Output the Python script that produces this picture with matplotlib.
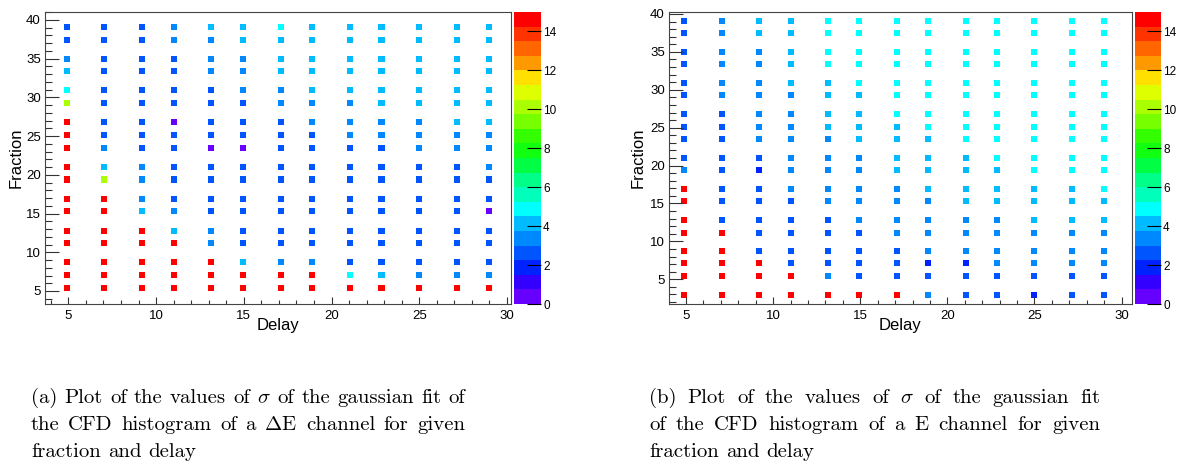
import numpy as np
import matplotlib.pyplot as plt
from matplotlib.colors import ListedColormap, BoundaryNorm
from matplotlib.ticker import MultipleLocator

plt.rcParams['font.family'] = ['Liberation Sans', 'DejaVu Sans']
plt.rcParams['mathtext.fontset'] = 'cm'

delay = [4.9, 7.05, 9.2, 11.0, 13.15, 14.95, 17.1, 18.9, 21.05, 22.85, 25.0, 27.15, 29.0]
fraction = [39.1, 37.45, 35.0, 33.4, 30.9, 29.25, 26.8, 25.1, 23.45, 21.05,
            19.4, 16.9, 15.3, 12.8, 11.15, 8.75, 7.1, 5.4, 2.9]

# sigma of the gaussian fit, one row per fraction (top row first)
sigma_de = [
    [2.6, 2.6, 2.6, 3.4, 4.1, 4.1, 4.9, 4.1, 4.1, 4.1, 4.1, 4.1, 4.1],
    [2.6, 2.6, 2.6, 3.4, 3.4, 4.1, 4.1, 4.1, 4.1, 4.1, 4.1, 4.1, 4.1],
    [3.4, 2.6, 2.6, 2.6, 3.4, 3.4, 4.1, 4.1, 4.1, 4.1, 4.1, 4.1, 4.1],
    [4.1, 2.6, 2.6, 2.6, 3.4, 3.4, 4.1, 4.1, 4.1, 4.1, 4.1, 4.1, 4.1],
    [4.9, 2.6, 2.6, 2.6, 2.6, 3.4, 3.4, 4.1, 4.1, 4.1, 4.1, 4.1, 4.1],
    [10.1, 2.6, 2.6, 2.6, 2.6, 2.6, 3.4, 3.4, 3.4, 4.1, 4.1, 4.1, 4.1],
    [14.7, 2.6, 2.6, 0.4, 2.6, 2.6, 2.6, 3.4, 3.4, 3.4, 3.4, 4.1, 4.1],
    [14.7, 2.6, 2.6, 2.6, 2.6, 2.6, 2.6, 2.6, 3.4, 3.4, 3.4, 3.4, 3.4],
    [14.7, 3.4, 2.6, 2.6, 0.4, 0.4, 2.6, 2.6, 2.6, 2.6, 3.4, 3.4, 3.4],
    [14.7, 4.1, 3.4, 2.6, 2.6, 2.6, 2.6, 2.6, 2.6, 2.6, 2.6, 2.6, 3.4],
    [14.7, 10.1, 3.4, 2.6, 2.6, 2.6, 2.6, 2.6, 2.6, 2.6, 2.6, 2.6, 2.6],
    [14.7, 14.7, 3.4, 2.6, 2.6, 2.6, 2.6, 2.6, 2.6, 2.6, 2.6, 2.6, 2.6],
    [14.7, 14.7, 4.1, 3.4, 2.6, 2.6, 2.6, 2.6, 2.6, 2.6, 2.6, 2.6, 0.4],
    [14.7, 14.7, 14.7, 4.1, 3.4, 2.6, 2.6, 2.6, 2.6, 2.6, 2.6, 2.6, 2.6],
    [14.7, 14.7, 14.7, 14.7, 3.4, 2.6, 2.6, 2.6, 2.6, 2.6, 2.6, 2.6, 2.6],
    [14.7, 14.7, 14.7, 14.7, 14.7, 4.1, 3.4, 3.4, 2.6, 2.6, 2.6, 2.6, 2.6],
    [14.7, 14.7, 14.7, 14.7, 14.7, 14.7, 14.7, 14.7, 4.9, 4.1, 3.4, 3.4, 3.4],
    [14.7, 14.7, 14.7, 14.7, 14.7, 14.7, 14.7, 14.7, 14.7, 14.7, 14.7, 14.7, 14.7],
]

sigma_e = [
    [2.6, 3.4, 4.1, 4.1, 4.9, 4.9, 4.9, 4.9, 4.9, 4.9, 4.9, 4.9, 4.9],
    [2.6, 3.4, 4.1, 4.1, 4.9, 4.9, 4.9, 4.9, 4.9, 4.9, 4.9, 4.9, 4.9],
    [2.6, 3.4, 3.4, 4.1, 4.9, 4.9, 4.9, 4.9, 4.9, 4.9, 4.9, 4.9, 4.9],
    [2.6, 3.4, 3.4, 4.1, 4.9, 4.9, 4.9, 4.9, 4.9, 4.9, 4.9, 4.9, 4.9],
    [2.6, 3.4, 3.4, 4.1, 4.1, 4.9, 4.9, 4.9, 4.9, 4.9, 4.9, 4.9, 4.9],
    [2.6, 3.4, 3.4, 3.4, 4.1, 4.1, 4.9, 4.9, 4.9, 4.9, 4.9, 4.9, 4.9],
    [2.6, 2.6, 3.4, 3.4, 4.1, 4.1, 4.9, 4.9, 4.9, 4.9, 4.9, 4.9, 4.9],
    [2.6, 2.6, 3.4, 3.4, 4.1, 4.1, 4.1, 4.9, 4.9, 4.9, 4.9, 4.9, 4.9],
    [2.6, 2.6, 3.4, 3.4, 3.4, 4.1, 4.1, 4.1, 4.9, 4.9, 4.9, 4.9, 4.9],
    [2.6, 2.6, 2.6, 3.4, 3.4, 3.4, 4.1, 4.1, 4.1, 4.9, 4.9, 4.9, 4.9],
    [3.4, 2.6, 2.2, 3.4, 3.4, 3.4, 4.1, 4.1, 4.1, 4.1, 4.9, 4.9, 4.9],
    [14.7, 2.6, 2.6, 3.4, 3.4, 3.4, 3.4, 4.1, 4.1, 4.1, 4.1, 4.1, 4.9],
    [14.7, 2.6, 2.6, 2.6, 3.4, 3.4, 3.4, 3.4, 4.1, 4.1, 4.1, 4.1, 4.1],
    [14.7, 2.6, 2.6, 2.6, 2.6, 3.4, 3.4, 3.4, 3.4, 3.4, 4.1, 4.1, 4.1],
    [14.7, 14.7, 2.6, 2.6, 2.6, 2.6, 3.4, 3.4, 3.4, 3.4, 3.4, 3.4, 3.4],
    [14.7, 14.7, 2.6, 2.6, 2.6, 2.6, 2.6, 3.4, 3.4, 3.4, 3.4, 3.4, 3.4],
    [14.7, 14.7, 14.7, 2.6, 2.6, 2.6, 2.6, 1.9, 1.9, 3.4, 3.4, 3.4, 3.4],
    [14.7, 14.7, 14.7, 14.7, 3.4, 2.6, 2.6, 2.6, 2.6, 2.6, 2.6, 2.6, 2.6],
    [14.7, 14.7, 14.7, 14.7, 14.7, 14.7, 14.7, 3.4, 2.6, 2.6, 1.9, 2.6, 2.6],
]

# 20-level rainbow palette, 0 -> 15
palette = ['#6600ff', '#3300ff', '#0022ff', '#0055ff', '#0088ff', '#00bbff', '#00ffff',
           '#00ffbb', '#00ff88', '#00ff44', '#11ff11', '#33ff00', '#77ff00', '#aaff00',
           '#ddff00', '#ffe000', '#ff9900', '#ff6600', '#ff3300', '#ff0000']
cmap = ListedColormap(palette)
norm = BoundaryNorm(np.linspace(0, 15, 21), cmap.N)

W, H = 1183, 461
fig = plt.figure(figsize=(W / 100, H / 100), dpi=100)


def px_axes(x0, x1, y0, y1):
    return fig.add_axes([x0 / W, 1 - y1 / H, (x1 - x0) / W, (y1 - y0) / H])


def draw_panel(ax, cax, sigma, fracs, xlim, ylim, ylab_x):
    xs, ys = np.meshgrid(delay, fracs)
    sc = ax.scatter(xs.ravel(), ys.ravel(), c=np.ravel(sigma), cmap=cmap, norm=norm,
                    marker='s', s=19, linewidths=0)
    ax.set_xlim(*xlim)
    ax.set_ylim(*ylim)
    ax.xaxis.set_major_locator(MultipleLocator(5))
    ax.xaxis.set_minor_locator(MultipleLocator(1))
    ax.yaxis.set_major_locator(MultipleLocator(5))
    ax.yaxis.set_minor_locator(MultipleLocator(1))
    ax.tick_params(axis='both', which='both', direction='in', color='#333333',
                   labelsize=9.5, width=0.8)
    ax.tick_params(axis='x', which='major', length=5, pad=4)
    ax.tick_params(axis='x', which='minor', length=3)
    ax.tick_params(axis='y', which='major', length=10, pad=3)
    ax.tick_params(axis='y', which='minor', length=5)
    for sp in ax.spines.values():
        sp.set_color('#444444')
        sp.set_linewidth(0.8)
    ax.set_xlabel('Delay', fontsize=12)
    ax.xaxis.label.set_va('center')
    ax.xaxis.set_label_coords(0.5, -0.075)
    ax.set_ylabel('Fraction', fontsize=12)
    ax.yaxis.label.set_va('center')
    ax.yaxis.set_label_coords(ylab_x, 0.5)

    cb = fig.colorbar(sc, cax=cax, ticks=range(0, 15, 2))
    cb.outline.set_visible(False)
    cb.minorticks_off()
    cax.tick_params(direction='in', length=10, width=0.8, pad=1.5, labelsize=8.5)


ax_a = px_axes(45, 511, 12, 304)
cax_a = px_axes(514, 541, 12, 304)
draw_panel(ax_a, cax_a, sigma_de, fraction[:-1], (3.67, 30.23), (3.32, 41.03), -0.061)

ax_b = px_axes(669, 1132, 12, 304)
cax_b = px_axes(1135, 1161, 12, 304)
draw_panel(ax_b, cax_b, sigma_e, fraction, (4.02, 30.6), (1.74, 40.26), -0.067)

# captions, set in Computer Modern and justified
renderer = fig.canvas.get_renderer()
caption_a = [r'(a) Plot of the values of $\sigma$ of the gaussian fit of',
             r'the CFD histogram of a $\Delta$E channel for given',
             'fraction and delay']
caption_b = [r'(b) Plot of the values of $\sigma$ of the gaussian fit',
             'of the CFD histogram of a E channel for given',
             'fraction and delay']


def word_widths(words, size):
    texts = [fig.text(0, 0, w, fontsize=size, family='cmr10') for w in words]
    widths = [t.get_window_extent(renderer).width for t in texts]
    for t in texts:
        t.remove()
    return widths


# pick the size at which the first line of (a) fills its measure naturally
probe = 10.0
words = caption_a[0].split(' ')
natural = sum(word_widths(words, probe)) + (len(words) - 1) * probe * 0.333 * 100 / 72
cap_size = probe * 432 / natural
space_px = cap_size * 0.333 * 100 / 72


def caption(lines, x0, x1, baselines):
    for k, (line, yb) in enumerate(zip(lines, baselines)):
        words = line.split(' ')
        widths = word_widths(words, cap_size)
        last = k == len(lines) - 1
        gap = space_px if last else (x1 - x0 - sum(widths)) / (len(words) - 1)
        x = x0
        for w, wd in zip(words, widths):
            fig.text(x / W, 1 - yb / H, w, fontsize=cap_size, family='cmr10',
                     va='baseline')
            x += wd + gap


caption(caption_a, 31, 465, [403, 430, 457])
caption(caption_b, 649, 1100, [403, 430, 457])

fig.savefig('out.png', dpi=100)
